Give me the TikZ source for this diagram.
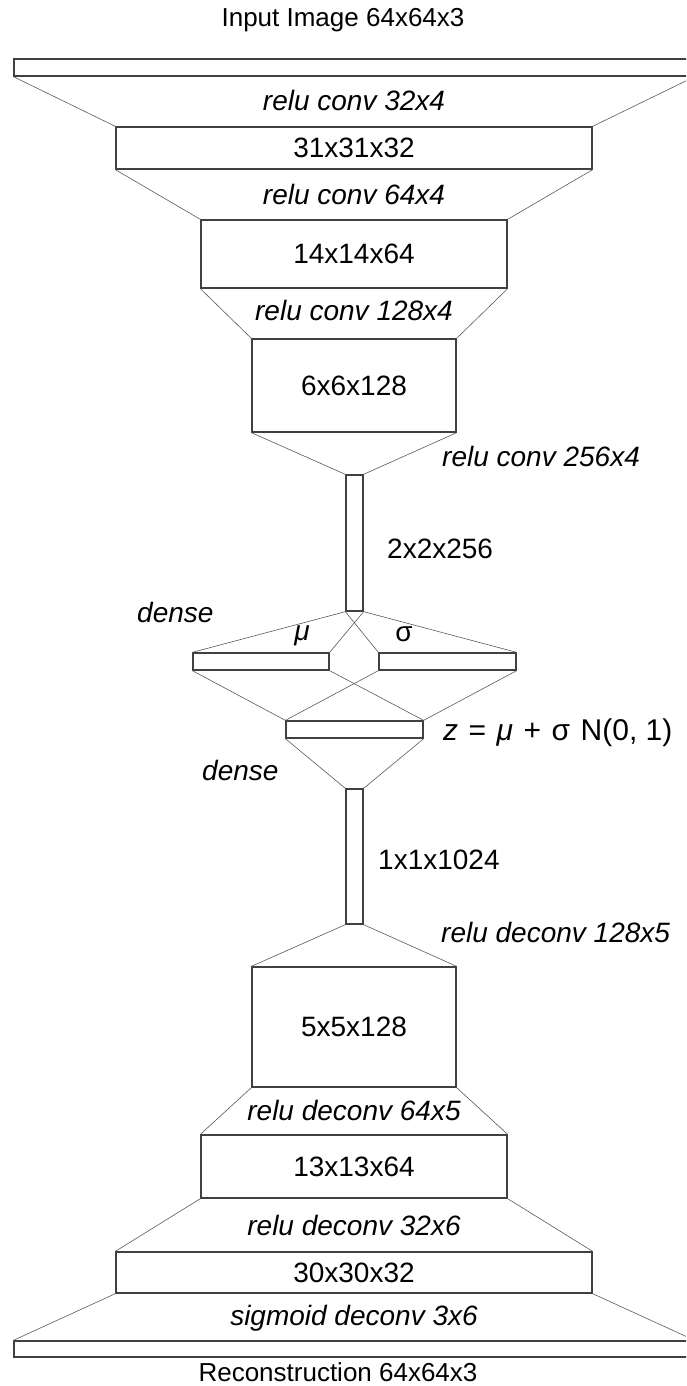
\documentclass[tikz,border=0pt]{standalone}
\usepackage{fontspec}
\setmainfont{Liberation Sans}
\newcommand{\wsp}{\hspace{0.35em}}
\begin{document}
\begin{tikzpicture}[x=1pt,y=-1pt,
  layer/.style={draw=black!75,line width=1.3pt,rectangle,inner sep=0pt,fill=white,font=\fontsize{28}{32}\selectfont},
  conn/.style={draw=black!65,line width=0.6pt},
  lbl/.style={font=\fontsize{28}{32}\selectfont,inner sep=0pt},
  ilbl/.style={font=\fontsize{28}{32}\selectfont\itshape,inner sep=0pt},
  tlbl/.style={font=\fontsize{26}{30}\selectfont,inner sep=0pt}]
\useasboundingbox (0,0) rectangle (686,1386);
\clip (0,0) rectangle (686,1386);
% layers
\node[layer,minimum width=680pt,minimum height=17pt] (in) at (354,67.5) {};
\node[layer,minimum width=476pt,minimum height=42pt] (c1) at (354,148) {31x31x32};
\node[layer,minimum width=306pt,minimum height=68pt] (c2) at (354,254) {14x14x64};
\node[layer,minimum width=204pt,minimum height=93pt] (c3) at (354,385.5) {6x6x128};
\node[layer,minimum width=17pt,minimum height=136pt] (c4) at (354.5,543) {};
\node[layer,minimum width=136pt,minimum height=17pt] (mu) at (261,661.5) {};
\node[layer,minimum width=137pt,minimum height=17pt] (sg) at (447.5,661.5) {};
\node[layer,minimum width=137pt,minimum height=17pt] (z) at (354.5,729.5) {};
\node[layer,minimum width=17pt,minimum height=135pt] (d1) at (354.5,856.5) {};
\node[layer,minimum width=204pt,minimum height=120pt] (d2) at (354,1027) {5x5x128};
\node[layer,minimum width=306pt,minimum height=63pt] (d3) at (354,1166.5) {13x13x64};
\node[layer,minimum width=476pt,minimum height=41pt] (d4) at (354,1272.5) {30x30x32};
\node[layer,minimum width=680pt,minimum height=16pt] (out) at (354,1349) {};
% connectors
\draw[conn] (in.south west) -- (c1.north west);
\draw[conn] (in.south east) -- (c1.north east);
\draw[conn] (c1.south west) -- (c2.north west);
\draw[conn] (c1.south east) -- (c2.north east);
\draw[conn] (c2.south west) -- (c3.north west);
\draw[conn] (c2.south east) -- (c3.north east);
\draw[conn] (c3.south west) -- (c4.north west);
\draw[conn] (c3.south east) -- (c4.north east);
\draw[conn] (c4.south west) -- (mu.north west);
\draw[conn] (c4.south west) -- (sg.north west);
\draw[conn] (c4.south east) -- (mu.north east);
\draw[conn] (c4.south east) -- (sg.north east);
\draw[conn] (mu.south west) -- (z.north west);
\draw[conn] (mu.south east) -- (z.north east);
\draw[conn] (sg.south west) -- (z.north west);
\draw[conn] (sg.south east) -- (z.north east);
\draw[conn] (z.south west) -- (d1.north west);
\draw[conn] (z.south east) -- (d1.north east);
\draw[conn] (d1.south west) -- (d2.north west);
\draw[conn] (d1.south east) -- (d2.north east);
\draw[conn] (d2.south west) -- (d3.north west);
\draw[conn] (d2.south east) -- (d3.north east);
\draw[conn] (d3.south west) -- (d4.north west);
\draw[conn] (d3.south east) -- (d4.north east);
\draw[conn] (d4.south west) -- (out.north west);
\draw[conn] (d4.south east) -- (out.north east);
% labels
\node[tlbl] (tin) at (343,20) {Input Image 64x64x3};
\node[ilbl] (l1) at (354,100) {relu conv 32x4};
\node[ilbl] (l2) at (354,194) {relu conv 64x4};
\node[ilbl] (l3) at (354,310) {relu conv 128x4};
\node[ilbl,anchor=west] (l4) at (442,456) {relu conv 256x4};
\node[lbl,anchor=west] (s4) at (387,549) {2x2x256};
\node[ilbl,anchor=west] (ld1) at (137,612) {dense};
\node[ilbl] (tmu) at (302,636) {μ};
\node[lbl] (tsg) at (404,634) {σ};
\node[lbl,anchor=west,font=\fontsize{30}{34}\selectfont] (tz) at (443,733) {\textit{z}\wsp=\wsp\textit{μ}\wsp+\wsp σ\wsp N(0, 1)};
\node[ilbl,anchor=west] (ld2) at (202,770) {dense};
\node[lbl,anchor=west] (s1) at (378,860) {1x1x1024};
\node[ilbl,anchor=west] (l5) at (441,932) {relu deconv 128x5};
\node[ilbl] (l6) at (354,1110) {relu deconv 64x5};
\node[ilbl] (l7) at (354,1225) {relu deconv 32x6};
\node[ilbl] (l8) at (354,1318) {sigmoid deconv 3x6};
\node[tlbl] (tout) at (338,1372) {Reconstruction 64x64x3};
\end{tikzpicture}
\end{document}
